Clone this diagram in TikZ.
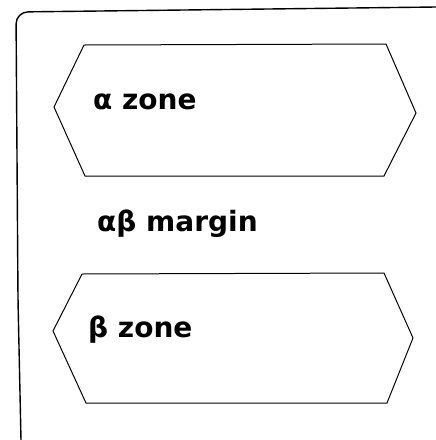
\documentclass[tikz,border=0pt]{standalone}
\usepackage{fontspec}
\setmainfont{DejaVu Sans}
\begin{document}
\begin{tikzpicture}[x=1pt,y=-1pt,
  frame/.style={line width=1.4pt, line join=round, rounded corners=12pt},
  zone/.style={line width=1pt, line join=miter},
  lbl/.style={anchor=west, inner sep=0pt, font=\fontsize{28}{32}\selectfont\bfseries}]
\useasboundingbox (0,0) rectangle (436,440);
% open frame
\draw[frame] (436,7) -- (16,12) -- (18,300) -- (21,440);
% alpha zone
\draw[zone] (84,45) -- (386,44) -- (416,113) -- (384,176) -- (85,176) -- (54,107) -- cycle;
\node[lbl] (alpha) at (93,102) {α zone};
% margin
\node[lbl] (margin) at (97,224) {αβ margin};
% beta zone
\draw[zone] (82,274) -- (384,273) -- (413,338) -- (387,403) -- (86,403) -- (53,331) -- cycle;
\node[lbl] (beta) at (88,330) {β zone};
\end{tikzpicture}
\end{document}
